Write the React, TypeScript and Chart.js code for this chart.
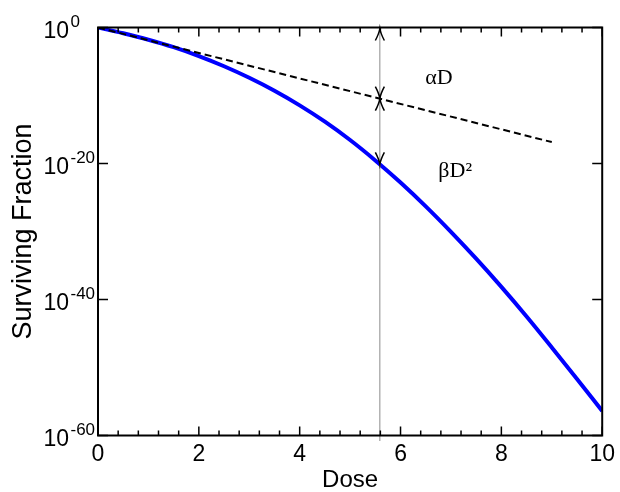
import React, { useEffect, useRef } from 'react';
import { Chart, registerables } from 'chart.js';

Chart.register(...registerables);

// ---- data ----
const doses = [0, 0.5, 1, 1.5, 2, 2.5, 3, 3.5, 4, 4.5, 5, 5.5, 6, 6.5, 7, 7.5, 8, 8.5, 9, 9.5, 10];
const survivingLQ = [
  1, 1.41e-1, 1.58e-2, 1.26e-3, 6.31e-5, 2.0e-6, 3.98e-8, 5.01e-10, 3.55e-12, 1.41e-14, 2.82e-17,
  2.82e-20, 1.58e-23, 5.01e-27, 8.91e-31, 1e-34, 7.08e-39, 3.16e-43, 8.91e-48, 2.0e-52, 3.98e-57,
];
const alphaDoses = [0, 9];
const survivingAlpha = [1, 1.41e-17];

const xTickValues = [0, 2, 4, 6, 8, 10];
const xMinorStep = 0.4;
const yTickExponents = [0, -20, -40, -60];

const markerDose = 5.59;
const markerAlphaLevel = 3.4e-11;
const markerLQLevel = 7.24e-21;

const alphaLabelText = 'αD';
const betaLabelText = 'βD²';
const alphaLabelDose = 6.76;
const alphaLabelLevel = 4.47e-9;
const betaLabelDose = 6.75;
const betaLabelLevel = 1.15e-22;

const SANS = '"Liberation Sans", Arial, Helvetica, sans-serif';
const SERIF = '"Liberation Serif", "Times New Roman", Times, serif';

const decorPlugin = {
  id: 'decor',
  afterDatasetsDraw(chart: any) {
    const { ctx, chartArea: a, scales } = chart;
    const x = scales.x;
    const y = scales.y;
    ctx.save();

    // vertical marker line
    const mx = x.getPixelForValue(markerDose);
    ctx.strokeStyle = '#8c8c8c';
    ctx.lineWidth = 1;
    ctx.beginPath();
    ctx.moveTo(mx, a.top);
    ctx.lineTo(mx, a.bottom + 5.5);
    ctx.stroke();

    // arrow heads (dir: -1 points up, +1 points down)
    ctx.strokeStyle = '#000';
    ctx.lineWidth = 1.5;
    const arrow = (px: number, py: number, dir: number) => {
      ctx.beginPath();
      ctx.moveTo(px - 4.5, py - dir * 12);
      ctx.quadraticCurveTo(px - 0.8, py - dir * 5, px, py);
      ctx.quadraticCurveTo(px + 0.8, py - dir * 5, px + 4.5, py - dir * 12);
      ctx.stroke();
    };
    const ya = y.getPixelForValue(markerAlphaLevel);
    const yb = y.getPixelForValue(markerLQLevel);
    arrow(mx, a.top + 1, -1);
    arrow(mx, ya, 1);
    arrow(mx, ya, -1);
    arrow(mx, yb, 1);

    // frame
    ctx.strokeStyle = '#000';
    ctx.lineWidth = 2;
    ctx.strokeRect(a.left, a.top, a.right - a.left, a.bottom - a.top);

    // x ticks (inward, top and bottom)
    ctx.lineWidth = 1.5;
    ctx.beginPath();
    for (let v = 0; v <= 10 + 1e-9; v += xMinorStep) {
      const val = Math.round(v * 10) / 10;
      const px = x.getPixelForValue(val);
      const major = xTickValues.includes(val);
      const len = major ? 9 : 5;
      ctx.moveTo(px, a.bottom);
      ctx.lineTo(px, a.bottom - len);
      ctx.moveTo(px, a.top);
      ctx.lineTo(px, a.top + len);
    }
    // y ticks
    yTickExponents.forEach((e) => {
      const py = y.getPixelForValue(Math.pow(10, e));
      ctx.moveTo(a.left, py);
      ctx.lineTo(a.left + 10, py);
      ctx.moveTo(a.right, py);
      ctx.lineTo(a.right - 10, py);
    });
    ctx.stroke();

    // y tick labels with superscripts
    ctx.fillStyle = '#000';
    const labelRight = a.left - 29;
    yTickExponents.forEach((e) => {
      const py = y.getPixelForValue(Math.pow(10, e));
      ctx.font = `23px ${SANS}`;
      ctx.textAlign = 'right';
      ctx.textBaseline = 'alphabetic';
      ctx.fillText('10', labelRight, py + 10.2);
      ctx.font = `17px ${SANS}`;
      ctx.textAlign = 'left';
      ctx.fillText(String(e), labelRight + 1.5, py - 1);
    });

    // annotation labels
    ctx.font = `22px ${SERIF}`;
    ctx.textAlign = 'center';
    ctx.fillText(alphaLabelText, x.getPixelForValue(alphaLabelDose), y.getPixelForValue(alphaLabelLevel));
    ctx.textAlign = 'left';
    ctx.fillText(betaLabelText, x.getPixelForValue(betaLabelDose), y.getPixelForValue(betaLabelLevel));

    ctx.restore();
  },
};

export default function App() {
  const ref = useRef<HTMLCanvasElement>(null);

  useEffect(() => {
    const chart = new Chart(ref.current as HTMLCanvasElement, {
      type: 'line',
      data: {
        datasets: [
          {
            label: 'alpha',
            data: alphaDoses.map((d, i) => ({ x: d, y: survivingAlpha[i] })),
            borderColor: '#000000',
            borderWidth: 2,
            borderDash: [7, 4],
            pointRadius: 0,
            fill: false,
          },
          {
            label: 'LQ',
            data: doses.map((d, i) => ({ x: d, y: survivingLQ[i] })),
            borderColor: '#0000ff',
            borderWidth: 4,
            pointRadius: 0,
            cubicInterpolationMode: 'monotone',
            fill: false,
          },
        ],
      },
      options: {
        animation: false,
        responsive: false,
        devicePixelRatio: 1,
        layout: { padding: { left: 0, right: 13, top: 27.5, bottom: 0 } },
        plugins: { legend: { display: false }, tooltip: { enabled: false } },
        scales: {
          x: {
            type: 'linear',
            min: 0,
            max: 10,
            afterBuildTicks: (s: any) => {
              s.ticks = xTickValues.map((v) => ({ value: v }));
            },
            afterFit: (s: any) => {
              s.height = 56.5;
            },
            grid: { display: false, drawTicks: false },
            border: { display: false },
            ticks: {
              color: '#000',
              font: { family: SANS, size: 23 },
              padding: 5,
              maxRotation: 0,
              autoSkip: false,
            },
            title: {
              display: true,
              text: 'Dose',
              color: '#000',
              font: { family: SANS, size: 24, lineHeight: 1 },
              padding: { top: 0, bottom: 0 },
            },
          },
          y: {
            type: 'logarithmic',
            min: 1e-60,
            max: 1,
            afterBuildTicks: (s: any) => {
              s.ticks = yTickExponents.map((e) => ({ value: Math.pow(10, e) }));
            },
            afterFit: (s: any) => {
              s.width = 98;
            },
            grid: { display: false, drawTicks: false },
            border: { display: false },
            ticks: { display: false },
            title: {
              display: true,
              text: 'Surviving Fraction',
              color: '#000',
              font: { family: SANS, size: 27, lineHeight: 1 },
              padding: { top: 10, bottom: 0 },
            },
          },
        },
      } as any,
      plugins: [decorPlugin],
    });
    return () => chart.destroy();
  }, []);

  return (
    <div style={{ position: 'absolute', left: 0, top: 0, width: 620, height: 492, background: '#fff' }}>
      <canvas ref={ref} width={620} height={492} style={{ display: 'block', width: 620, height: 492 }} />
    </div>
  );
}
